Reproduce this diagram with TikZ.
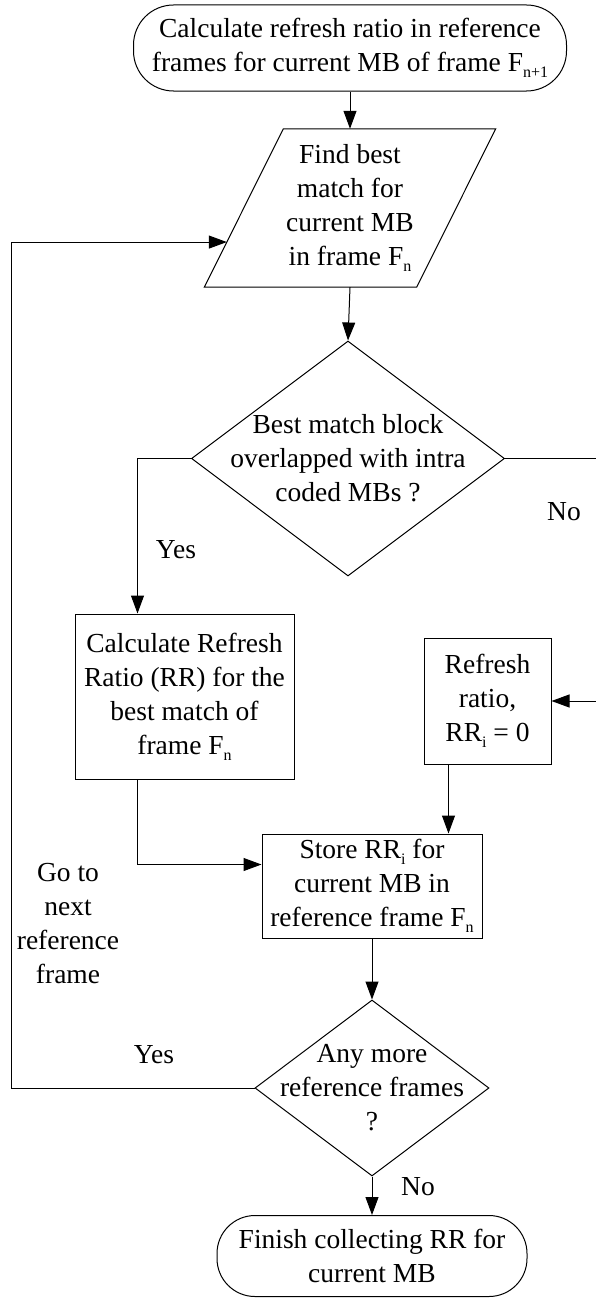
\documentclass[tikz,border=0pt]{standalone}
\usepackage{fontspec}
\setmainfont{Liberation Serif}
\usetikzlibrary{arrows.meta,shapes.geometric,calc}
% small lowered index such as the n in F_n
\newcommand{\lowidx}[1]{\raisebox{-0.22em}{\fontsize{16}{16}\selectfont #1}}

\begin{document}
\begin{tikzpicture}[x=1pt,y=-1pt,
  every node/.style={font=\fontsize{27.5}{34}\selectfont, align=center, inner sep=0pt},
  flow/.style={draw, line width=1pt},
  term/.style={flow, rectangle, rounded corners=40pt},
  proc/.style={flow, rectangle},
  dec/.style={flow, diamond},
  wire/.style={line width=1pt},
  conn/.style={line width=1pt, -{Triangle[length=18pt,width=13pt]}}]

\useasboundingbox (0,0) rectangle (596,1298);

% start terminator
\node[term, minimum width=433pt, minimum height=86pt] (start) at (350,48)
  {Calculate refresh ratio in reference\\frames for current MB of frame F\lowidx{n+1}};

% search step (parallelogram drawn around its text)
\node[minimum width=212pt, minimum height=158pt] (find) at (350,208)
  {Find best\\match for\\current MB\\in frame F\lowidx{n}};
\coordinate (pTL) at ($(find.north west)+(39.5,0)$);
\coordinate (pTR) at ($(find.north east)+(39.5,0)$);
\coordinate (pBR) at ($(find.south east)+(-39.5,0)$);
\coordinate (pBL) at ($(find.south west)+(-39.5,0)$);
\draw[wire] (pTL) -- (pTR) -- (pBR) -- (pBL) -- cycle;
\coordinate (pin) at ($(pTL)!0.715!(pBL)$);

% first decision
\node[dec, minimum width=313pt, minimum height=235pt] (q1) at (348,458.5) {};
\node (q1t) at (q1.center) {Best match block\\overlapped with intra\\coded MBs ?};

% refresh ratio of the best match
\node[proc, minimum width=219pt, minimum height=165pt] (rrbox) at (184.5,696.5)
  {Calculate Refresh\\Ratio (RR) for the\\best match of\\frame F\lowidx{n}};

% zero refresh ratio
\node[proc, minimum width=127pt, minimum height=126pt] (zero) at (487.5,701)
  {Refresh\\ratio,\\RR\lowidx{i} = 0};

% store step
\node[proc, minimum width=220pt, minimum height=104pt] (store) at (372,886)
  {Store RR\lowidx{i} for\\current MB in\\reference frame F\lowidx{n}};

% second decision
\node[dec, minimum width=234pt, minimum height=176pt] (q2) at (372,1088) {};
\node (q2t) at (q2.center) {Any more\\reference frames\\?};

% end terminator
\node[term, minimum width=310pt, minimum height=81pt, rounded corners=38pt] (finish) at (372,1256)
  {Finish collecting RR for\\current MB};

% labels
\node (yes1) at (176,550) {Yes};
\node (no1) at (564,512) {No};
\node (goto) at (68,924) {Go to\\next\\reference\\frame};
\node (yes2) at (154,1055) {Yes};
\node (no2) at (418,1187) {No};

% helper points
\coordinate (edgeR) at (596,0);
\coordinate (loopx) at (11.5,0);
\coordinate (rrin) at ($(rrbox.north west)+(63,0)$);
\coordinate (rrout) at ($(rrbox.south west)+(63,0)$);
\coordinate (storein) at ($(store.north west)+(0,31)$);
\coordinate (zout) at ($(zero.south west)+(25,0)$);

% connectors
\draw[conn] (start.south) -- (find.north);
\draw[conn] (find.south) -- (q1.north);
\draw[conn] (q1.west) -| (rrin);
\draw[wire] (q1.east) -- (q1.east -| edgeR);
\draw[conn] (zero.east -| edgeR) -- (zero.east);
\draw[conn] (rrout) |- (storein);
\draw[conn] (zout) -- (zout |- store.north);
\draw[conn] (store.south) -- (q2.north);
\draw[conn] (q2.south) -- (finish.north);
\draw[conn] (q2.west) -- (q2.west -| loopx) |- (pin);
\end{tikzpicture}
\end{document}
